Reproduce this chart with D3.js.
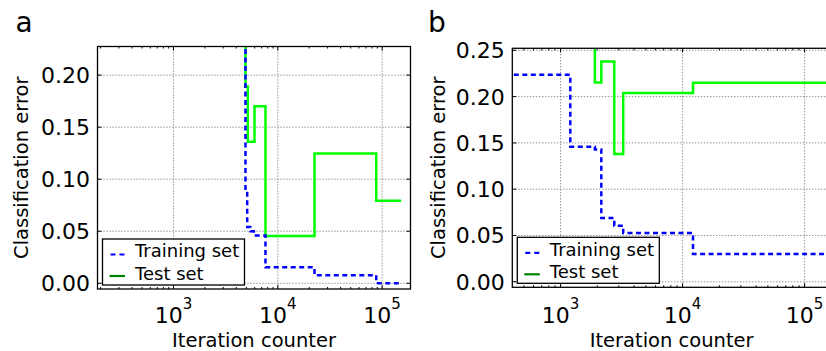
<!DOCTYPE html>
<html>
<head>
<meta charset="utf-8">
<script src="https://cdn.jsdelivr.net/npm/d3@7"></script>
<style>
  body { margin: 0; background: #fff; }
  svg { display: block; font-family: "DejaVu Sans", sans-serif; }
</style>
</head>
<body>
<svg id="chart" width="826" height="351"></svg>
<script>
// panel a : [iteration, error] step points
var trainA = [[4400, 0.40], [4900, 0.088], [5090, 0.054], [5470, 0.050], [5900, 0.046], [7620, 0.0153], [22480, 0.0077], [87760, 0.0], [152000, 0.0]]
var testA = [[4400, 0.40], [4900, 0.189], [5160, 0.136], [5980, 0.170], [7620, 0.0454], [22480, 0.1247], [87760, 0.0792], [152000, 0.0792]]
// panel b
var trainB = [[300, 0.2236], [1201, 0.1458], [1910, 0.143], [2156, 0.0688], [2755, 0.0605], [3260, 0.0526], [12170, 0.030], [165000, 0.030]]
var testB = [[1700, 0.40], [1910, 0.2153], [2156, 0.238], [2755, 0.138], [3260, 0.2038], [12170, 0.215], [165000, 0.215]]

var xMajor = [1e3, 1e4, 1e5]
var xExp = ["3", "4", "5"]
var yTicksA = [0, 0.05, 0.10, 0.15, 0.20]
var yTicksB = [0, 0.05, 0.10, 0.15, 0.20, 0.25]
var legendNames = ["Training set", "Test set"]

var svg = d3.select("#chart")

function minorTicks(domain) {
    var res = []
    for (var k = 1; k <= 6; k++) {
        for (var m = 2; m <= 9; m++) {
            var v = m * Math.pow(10, k)
            if (v > domain[0] && v < domain[1]) res.push(v)
        }
    }
    return res
}

function drawPanel(p) {
    var left = p.left, right = p.right, top = p.top, bottom = p.bottom
    var x = d3.scaleLog().domain(p.xDomain).range([left, right])
    var y = d3.scaleLinear().domain(p.yDomain).range([bottom, top])
    var g = svg.append("g")

    g.append("clipPath").attr("id", "clip-" + p.name)
        .append("rect").attr("x", left).attr("y", top).attr("width", right - left).attr("height", bottom - top)

    // grid
    var grid = g.append("g").attr("stroke", "#555").attr("stroke-width", 0.9).attr("stroke-dasharray", "1,2")
    xMajor.forEach(function(v) {
        grid.append("line").attr("x1", x(v)).attr("x2", x(v)).attr("y1", top).attr("y2", bottom)
    })
    p.yTicks.forEach(function(v) {
        grid.append("line").attr("x1", left).attr("x2", right).attr("y1", y(v)).attr("y2", y(v))
    })

    // ticks, inward on all sides
    var ticks = g.append("g").attr("stroke", "#000").attr("stroke-width", 1)
    xMajor.forEach(function(v) {
        ticks.append("line").attr("x1", x(v)).attr("x2", x(v)).attr("y1", bottom).attr("y2", bottom - 4)
        ticks.append("line").attr("x1", x(v)).attr("x2", x(v)).attr("y1", top).attr("y2", top + 4)
    })
    minorTicks(p.xDomain).forEach(function(v) {
        ticks.append("line").attr("x1", x(v)).attr("x2", x(v)).attr("y1", bottom).attr("y2", bottom - 2)
        ticks.append("line").attr("x1", x(v)).attr("x2", x(v)).attr("y1", top).attr("y2", top + 2)
    })
    p.yTicks.forEach(function(v) {
        ticks.append("line").attr("x1", left).attr("x2", left + 4).attr("y1", y(v)).attr("y2", y(v))
        ticks.append("line").attr("x1", right).attr("x2", right - 4).attr("y1", y(v)).attr("y2", y(v))
    })

    // lines
    var line = d3.line().x(function(d) { return x(d[0]) }).y(function(d) { return y(d[1]) }).curve(d3.curveStepAfter)
    var lines = g.append("g").attr("clip-path", "url(#clip-" + p.name + ")").attr("fill", "none")
    lines.append("path").datum(p.test).attr("d", line)
        .attr("stroke", "#00ff00").attr("stroke-width", 2.5)
    lines.append("path").datum(p.train).attr("d", line)
        .attr("stroke", "#0000ff").attr("stroke-width", 2.5).attr("stroke-dasharray", "5,3.5")

    // frame
    g.append("rect").attr("x", left).attr("y", top).attr("width", right - left).attr("height", bottom - top)
        .attr("fill", "none").attr("stroke", "#000").attr("stroke-width", 1.3)

    // tick labels
    xMajor.forEach(function(v, i) {
        if (x(v) > 826) return
        var t = g.append("text").attr("x", x(v)).attr("y", 322.7).attr("text-anchor", "middle")
            .attr("font-size", 22).attr("fill", "#000")
        t.append("tspan").text("10")
        t.append("tspan").attr("dy", -13.4).attr("font-size", 15).text(xExp[i])
    })
    p.yTicks.forEach(function(v) {
        g.append("text").attr("x", left - 7.5).attr("y", y(v)).attr("dy", "0.36em")
            .attr("text-anchor", "end").attr("font-size", 22).attr("fill", "#000")
            .text(d3.format(".2f")(v))
    })

    // axis labels
    g.append("text").attr("x", (left + p.labelRight) / 2).attr("y", 347).attr("text-anchor", "middle")
        .attr("font-size", 19.5).text("Iteration counter")
    g.append("text").attr("transform", "translate(" + p.yLabelX + "," + ((top + bottom) / 2) + ") rotate(-90)")
        .attr("text-anchor", "middle").attr("font-size", 19.5).text("Classification error")
    g.append("text").attr("x", p.letterX).attr("y", 31.5).attr("font-size", 28).text(p.name)

    // legend
    var lx = left + 5, ly = bottom - 4 - 46
    var leg = g.append("g")
    leg.append("rect").attr("x", lx).attr("y", ly).attr("width", 142).attr("height", 46)
        .attr("fill", "#fff").attr("stroke", "#000").attr("stroke-width", 1.3)
    leg.append("line").attr("x1", lx + 8).attr("x2", lx + 22).attr("y1", ly + 15.5).attr("y2", ly + 15.5)
        .attr("stroke", "#0000ff").attr("stroke-width", 2.2).attr("stroke-dasharray", "5,4")
    leg.append("line").attr("x1", lx + 7).attr("x2", lx + 22.5).attr("y1", ly + 37).attr("y2", ly + 37)
        .attr("stroke", "#008000").attr("stroke-width", 2.2)
    leg.append("text").attr("x", lx + 32.5).attr("y", ly + 18.3).attr("font-size", 18).text(legendNames[0])
    leg.append("text").attr("x", lx + 32.5).attr("y", ly + 41).attr("font-size", 18).text(legendNames[1])
}

drawPanel({name: "a", left: 97.5, right: 410.5, top: 46.5, bottom: 289, labelRight: 410.5,
    xDomain: [187, 187000], yDomain: [-0.0055, 0.2275], yTicks: yTicksA,
    train: trainA, test: testA, yLabelX: 28, letterX: 15.5})
drawPanel({name: "b", left: 512.3, right: 831, top: 48.3, bottom: 287.3, labelRight: 831,
    xDomain: [402, 164500], yDomain: [-0.006, 0.2522], yTicks: yTicksB,
    train: trainB, test: testB, yLabelX: 445, letterX: 428})
</script>
</body>
</html>
